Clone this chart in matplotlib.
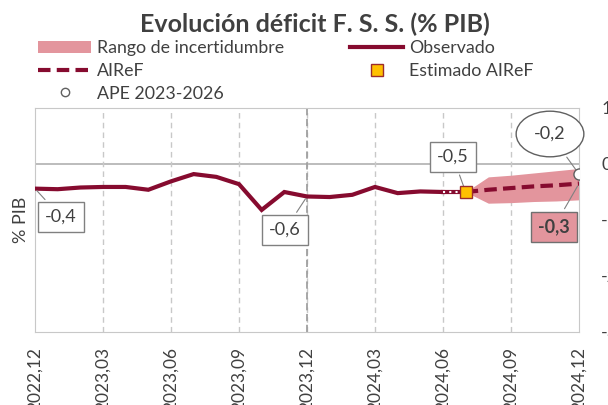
import numpy as np
import matplotlib.pyplot as plt
from matplotlib.lines import Line2D
from matplotlib.patches import Patch

plt.rcParams['font.family'] = ['Lato', 'DejaVu Sans']

# months since 2022-12
tick_labels = ['2022,12', '2023,03', '2023,06', '2023,09', '2023,12',
               '2024,03', '2024,06', '2024,09', '2024,12']

obs_x = list(range(0, 19))          # 2022-12 .. 2024-06
observado = [-0.44, -0.45, -0.42, -0.41, -0.41, -0.46, -0.31, -0.18, -0.23,
             -0.36, -0.82, -0.50, -0.58, -0.59, -0.55, -0.41, -0.52, -0.49, -0.50]

estimado_x = 19                     # 2024-07
estimado = -0.50

airef_x = [19, 20, 21, 22, 23, 24]
airef = [-0.50, -0.46, -0.43, -0.40, -0.38, -0.35]
band_lo = [-0.50, -0.70, -0.69, -0.67, -0.66, -0.64]
band_hi = [-0.50, -0.23, -0.20, -0.16, -0.12, -0.08]

ape_x = 24
ape = -0.18

RED = '#860b2f'
PINK = '#e3959d'
TXT = '#404040'

fig = plt.figure(figsize=(6.08, 4.05), dpi=100)
ax = fig.add_axes([35/608, 1 - 332/405, 544/608, 224/405])

ax.fill_between(airef_x, band_lo, band_hi, color=PINK, lw=0, zorder=1)
ax.axhline(0, color='#b0b0b0', lw=1.2, zorder=0)
for xv in range(3, 24, 3):
    ax.axvline(xv, color='#c8c8c8', lw=1, ls=(0, (4, 3)), zorder=0)
ax.axvline(12, color='#a0a0a0', lw=1.3, ls=(0, (4, 2)), zorder=0)

ax.plot(obs_x, observado, color=RED, lw=3, solid_joinstyle='miter', zorder=3)
ax.plot([obs_x[-1], estimado_x], [observado[-1], estimado], color=RED, lw=3, zorder=3)
ax.plot([obs_x[-1], estimado_x], [observado[-1], estimado], color='white', lw=1.5,
        ls=(0, (1, 2)), zorder=3)
ax.plot(airef_x, airef, color=RED, lw=3, ls=(0, (3, 1.5)), zorder=3)
ax.plot(estimado_x, estimado, 's', ms=9, mfc='#ffc000', mec='#9b2c2c', mew=1, zorder=5)
ax.plot(ape_x, ape, 'o', ms=8, mfc='white', mec='#606060', mew=1, zorder=5)

box = dict(boxstyle='square,pad=0.38', fc='white', ec='#808080', lw=1)
arrow = dict(arrowstyle='-', color='#808080', lw=0.8)
ax.annotate('-0,4', (obs_x[0], observado[0]), xytext=(61, 188),
            textcoords='figure pixels', fontsize=13, color=TXT,
            ha='center', va='center', bbox=box, arrowprops=arrow)
ax.annotate('-0,6', (obs_x[12], observado[12]), xytext=(285, 175),
            textcoords='figure pixels', fontsize=13, color=TXT,
            ha='center', va='center', bbox=box, arrowprops=arrow)
ax.annotate('-0,5', (estimado_x, estimado), xytext=(453, 248),
            textcoords='figure pixels', fontsize=13, color=TXT,
            ha='center', va='center', bbox=box, arrowprops=arrow)
ax.annotate('-0,2', (ape_x, ape), xytext=(550, 271),
            textcoords='figure pixels', fontsize=13, color=TXT,
            ha='center', va='center',
            bbox=dict(boxstyle='ellipse,pad=0.45', fc='white', ec='#606060', lw=1),
            arrowprops=arrow)
ax.annotate('-0,3', (airef_x[-1], airef[-1]), xytext=(554, 178),
            textcoords='figure pixels', fontsize=13, color=TXT, fontweight='bold',
            ha='center', va='center',
            bbox=dict(boxstyle='square,pad=0.38', fc=PINK, ec='#707070', lw=1),
            arrowprops=arrow)

ax.set_xlim(0, 24)
ax.set_ylim(-3, 1)
ax.set_xticks(range(0, 25, 3))
ax.set_xticklabels(tick_labels, rotation=90, fontsize=12.5, color=TXT)
ax.tick_params(axis='x', length=0, pad=11)
ax.yaxis.tick_right()
ax.set_yticks([1, 0, -1, -2, -3])
ax.set_yticklabels(['1', '0', '-1', '-2', '-3'], fontsize=13, color=TXT)
ax.tick_params(axis='y', length=0, pad=16)
ax.set_ylabel('% PIB', fontsize=13, color=TXT)
ax.yaxis.set_label_position('left')
for s in ax.spines.values():
    s.set_color('#c8c8c8')

fig.text(315/608, 1 - 24/405, 'Evolución déficit F. S. S. (% PIB)', ha='center',
         va='center', fontsize=18, fontweight='bold', color=TXT)

h_left = [Patch(fc=PINK, ec='none'),
          Line2D([], [], color=RED, lw=3, ls=(0, (3, 1.5))),
          Line2D([], [], ls='none', marker='o', ms=6, mfc='white', mec='#606060')]
fig.legend(h_left, ['Rango de incertidumbre', 'AIReF', 'APE 2023-2026'],
           loc='upper left', bbox_to_anchor=(38/608, 1 - 40/405), frameon=False,
           fontsize=12.8, labelcolor=TXT, handlelength=3.0, handletextpad=0.3,
           labelspacing=0.38, borderpad=0, borderaxespad=0)
h_right = [Line2D([], [], color=RED, lw=3),
           Line2D([], [], ls='none', marker='s', ms=9, mfc='#ffc000', mec='#9b2c2c')]
fig.legend(h_right, ['Observado', 'Estimado AIReF'],
           loc='upper left', bbox_to_anchor=(350/608, 1 - 40/405), frameon=False,
           fontsize=12.8, labelcolor=TXT, handlelength=3.0, handletextpad=0.3,
           labelspacing=0.38, borderpad=0, borderaxespad=0)

fig.savefig('out.png', dpi=100)
